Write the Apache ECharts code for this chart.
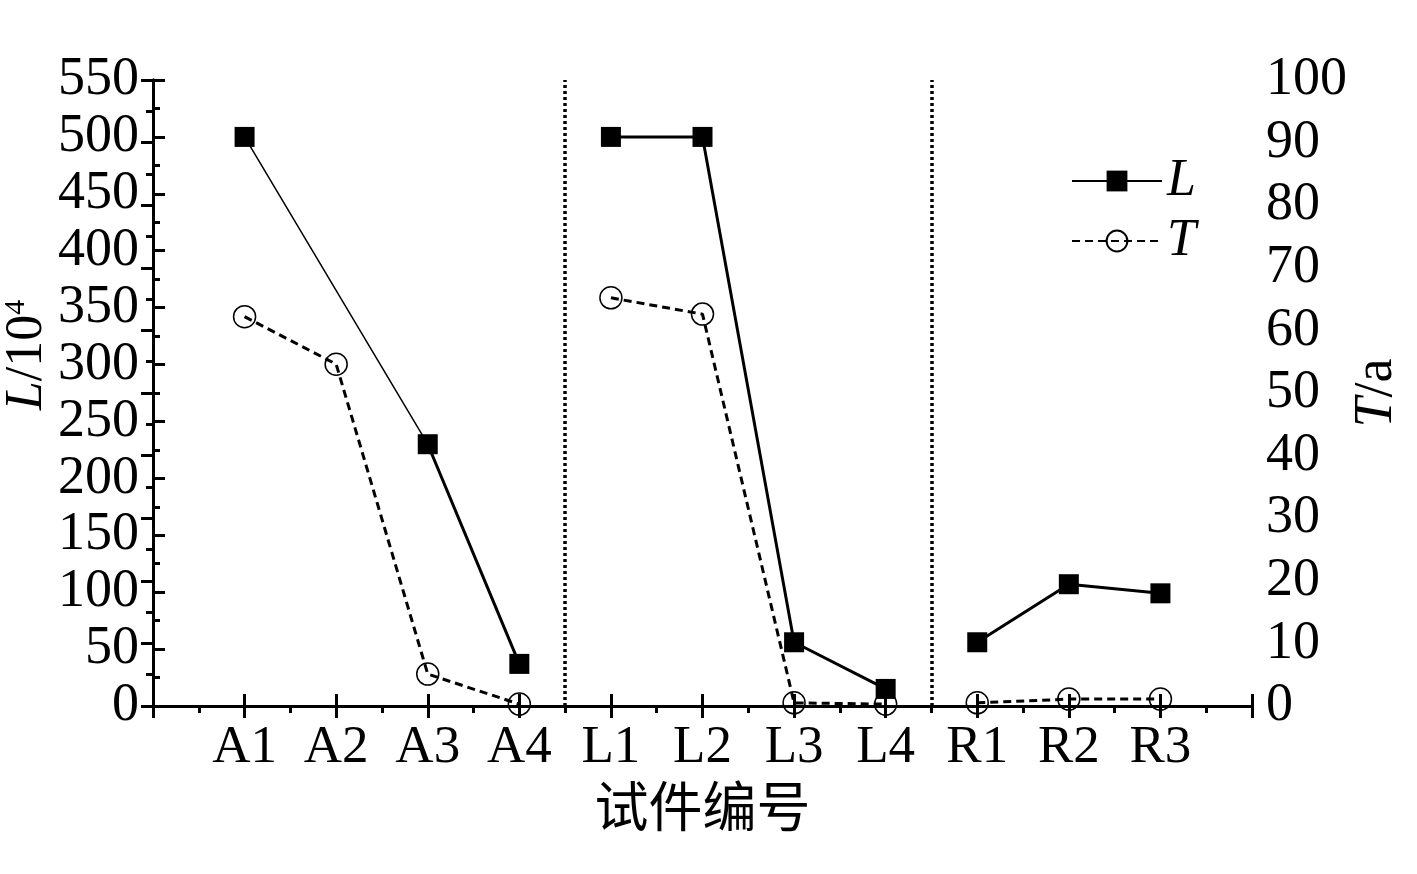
<!DOCTYPE html>
<html>
<head>
<meta charset="utf-8">
<script src="https://cdn.jsdelivr.net/npm/echarts@6/dist/echarts.min.js"></script>
<style>html,body{margin:0;padding:0;background:#fff}#c{width:1417px;height:874px}</style>
</head>
<body>
<div id="c"></div>
<script>
// ---- data ----
const categories = ['A1','A2','A3','A4','L1','L2','L3','L4','R1','R2','R3'];
const groups = [[0,4],[4,8],[8,11]];           // index ranges of specimen groups
const L_values = [500, null, 230, 37, 500, 500, 56, 15, 56, 107, 99];
const T_values = [62.2, 54.6, 5.1, 0.3, 65.2, 62.6, 0.5, 0.3, 0.5, 1.1, 1.1];
const groupDividers = [4.5, 8.5];
const leftTicks = {min:0, max:550, interval:50};
const rightTicks = {min:0, max:100, interval:10};

const FONT = 'Liberation Serif';
const chart = echarts.init(document.getElementById('c'), null, {renderer:'canvas'});

function pts(arr, a, b){ const o=[]; for(let i=a;i<b;i++){ o.push([i+1, arr[i]]);} return o; }

const series = [];
groups.forEach((g,gi)=>{
  const hasNull = L_values.slice(g[0],g[1]).some(v=>v===null);
  if(hasNull){
    series.push({type:'line', name:'Lbridge', yAxisIndex:0, xAxisIndex:0, data:pts(L_values,g[0],g[1]),
      connectNulls:true, showSymbol:false, symbol:'none', lineStyle:{color:'#000', width:1.5}, z:2, silent:true});
  }
  series.push({type:'line', name:'L', yAxisIndex:0, xAxisIndex:0, data:pts(L_values,g[0],g[1]),
    connectNulls:false, symbol:'rect', symbolSize:20, itemStyle:{color:'#000'}, lineStyle:{color:'#000', width:3}, z:4});
  series.push({type:'line', name:'T', yAxisIndex:1, xAxisIndex:0, data:pts(T_values,g[0],g[1]),
    symbol:'circle', symbolSize:22, itemStyle:{color:'rgba(255,255,255,0)', borderColor:'#000', borderWidth:1.5},
    lineStyle:{color:'#000', width:3, type:[8,5]}, z:3,
    markLine: gi===0 ? {silent:true, symbol:'none', label:{show:false},
      lineStyle:{color:'#000', type:[3,3], width:3.5},
      data: groupDividers.map(x=>({xAxis:x}))} : undefined});
});

const axisLine = {show:true, lineStyle:{color:'#000', width:3}};
const tick = {show:true, inside:true, length:12, lineStyle:{color:'#000', width:3}};
const minor = {show:true, splitNumber:2, length:7, lineStyle:{color:'#000', width:3}};
const option = {
  animation:false,
  backgroundColor:'#fff',
  grid:{left:153, right:165, top:80, bottom:168, containLabel:false},
  legend:{
    data:[{name:'L'},{name:'T'}],
    orient:'vertical', left:1066, top:150, itemWidth:90, itemHeight:26, itemGap:8,
    textStyle:{fontFamily:FONT, fontStyle:'italic', fontSize:52, color:'#000'},
  },
  xAxis:[
    {type:'value', position:'bottom', min:0, max:categories.length+1, interval:1,
     axisLine:axisLine, splitLine:{show:false}, axisTick:tick,
     axisLabel:{margin:16, fontFamily:FONT, fontSize:53, color:'#000',
       formatter:v=>(v>=1 && v<=categories.length && Number.isInteger(v)) ? categories[v-1] : ''},
     name:'试件编号', nameLocation:'middle', nameGap:70,
     nameTextStyle:{fontFamily:'Noto Sans CJK SC', fontSize:54, color:'#000'}},
    {type:'value', position:'top', min:0, max:categories.length+1, interval:1,
     axisLine:axisLine, splitLine:{show:false}, axisLabel:{show:false},
     axisTick:tick, minorTick:minor}
  ],
  yAxis:[
    {type:'value', position:'left', min:leftTicks.min, max:leftTicks.max, interval:leftTicks.interval,
     axisLine:axisLine, splitLine:{show:false}, axisTick:tick, minorTick:minor,
     axisLabel:{margin:14, fontFamily:FONT, fontSize:54, color:'#000'}},
    {type:'value', position:'right', min:rightTicks.min, max:rightTicks.max, interval:rightTicks.interval,
     axisLine:axisLine, splitLine:{show:false}, axisTick:tick, minorTick:minor,
     axisLabel:{margin:14, fontFamily:FONT, fontSize:54, color:'#000'}}
  ],
  graphic:[
    {type:'text', x:27, y:355, rotation:Math.PI/2, style:{
      text:'{i|L}/10{s|4}', rich:{
        i:{fontFamily:FONT, fontStyle:'italic', fontSize:52, fill:'#000'},
        s:{fontFamily:FONT, fontSize:30, fill:'#000', verticalAlign:'bottom', padding:[0,0,22,0]}
      }, font:'52px "Liberation Serif"', fill:'#000', align:'center', verticalAlign:'middle'}},
    {type:'text', x:1377, y:393, rotation:Math.PI/2, style:{
      text:'{i|T}/a', rich:{
        i:{fontFamily:FONT, fontStyle:'italic', fontSize:54, fill:'#000'}
      }, font:'54px "Liberation Serif"', fill:'#000', align:'center', verticalAlign:'middle'}}
  ],
  series:series
};
chart.setOption(option);
</script>
</body>
</html>
